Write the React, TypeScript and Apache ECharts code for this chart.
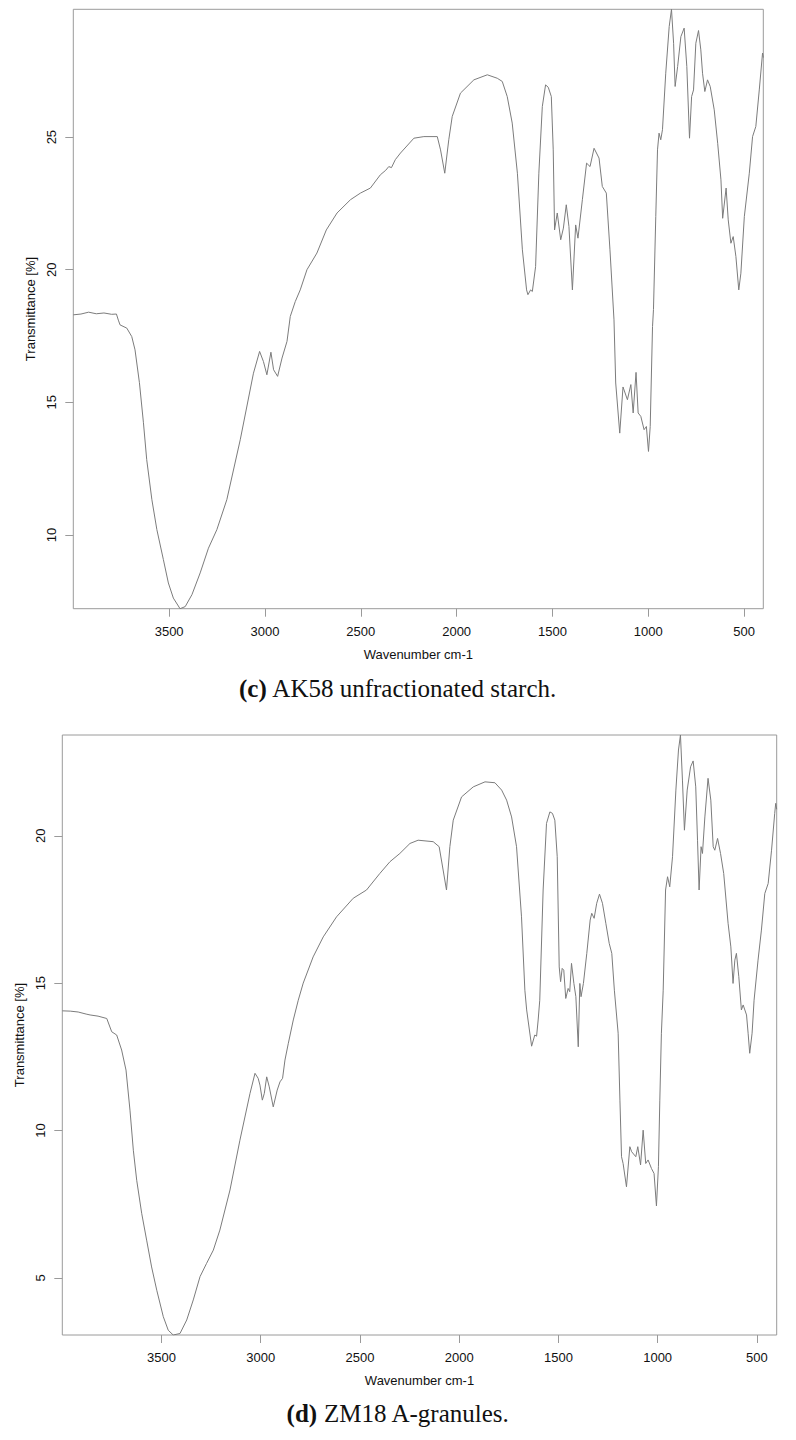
import React, { useEffect, useRef } from "react";
import * as echarts from "echarts";

// (c) AK58 unfractionated starch
const wnC = [
  4000, 3960, 3920, 3880, 3840, 3800, 3775, 3765, 3756, 3721, 3695, 3678, 3655, 3634, 3617, 3590, 3564, 3530, 3504, 3478,
  3443, 3416, 3381, 3338, 3295, 3251, 3199, 3129, 3060, 3028, 3008, 2990, 2969, 2955, 2934, 2911, 2885, 2868, 2842, 2816,
  2781, 2729, 2680, 2624, 2554, 2502, 2450, 2398, 2370, 2354, 2340, 2320, 2293, 2223, 2171, 2101, 2084, 2062, 2041, 2023,
  1980, 1910, 1840, 1788, 1762, 1736, 1710, 1683, 1657, 1635, 1628, 1614, 1605, 1588, 1571, 1553, 1536, 1522, 1506, 1496,
  1489, 1475, 1457, 1443, 1428, 1414, 1396, 1379, 1367, 1344, 1322, 1304, 1283, 1257, 1240, 1219, 1200, 1179, 1170, 1149,
  1132, 1109, 1091, 1079, 1064, 1053, 1039, 1022, 1010, 999, 990, 978, 973, 961, 952, 944, 935, 926, 909, 891,
  879, 868, 860, 847, 830, 813, 799, 785, 774, 764, 752, 738, 726, 717, 705, 691, 677, 656, 638, 621,
  612, 594, 583, 569, 557, 543, 528, 517, 499, 473, 456, 439, 421, 404, 400,
];
const tC = [
  18.3, 18.33, 18.4, 18.34, 18.37, 18.32, 18.33, 18.1, 17.92, 17.8, 17.48, 16.98, 15.74, 14.23, 12.84, 11.33, 10.2, 9.07, 8.19, 7.62,
  7.22, 7.3, 7.75, 8.57, 9.5, 10.2, 11.33, 13.59, 16.1, 16.92, 16.54, 16.04, 16.89, 16.23, 15.98, 16.67, 17.3, 18.24, 18.8, 19.24,
  20.0, 20.63, 21.5, 22.14, 22.64, 22.89, 23.08, 23.58, 23.75, 23.89, 23.85, 24.15, 24.4, 24.96, 25.02, 25.02, 24.52, 23.64, 24.9, 25.78,
  26.66, 27.16, 27.35, 27.22, 27.1, 26.53, 25.53, 23.64, 20.75, 19.24, 19.06, 19.24, 19.18, 20.12, 23.64, 26.15, 26.97, 26.88, 26.53, 24.52,
  21.5, 22.14, 21.13, 21.57, 22.45, 21.63, 19.24, 21.69, 21.19, 22.64, 24.02, 23.89, 24.58, 24.21, 23.14, 22.89, 20.75, 18.11, 15.73, 13.84,
  15.58, 15.1, 15.67, 14.6, 16.13, 14.6, 14.47, 13.97, 14.09, 13.15, 14.09, 17.86, 18.5, 22.0, 24.52, 25.15, 24.9, 25.28, 27.41, 29.17,
  29.82, 28.54, 26.91, 27.66, 28.79, 29.11, 27.66, 24.96, 26.53, 26.78, 28.54, 29.02, 28.29, 27.41, 26.72, 27.16, 26.91, 26.03, 24.77, 23.39,
  21.94, 23.08, 21.88, 21.0, 21.25, 20.5, 19.24, 19.87, 22.0, 23.64, 25.02, 25.4, 26.78, 28.17, 28.0,
];

// (d) ZM18 A-granules
const wnD = [
  4000, 3960, 3920, 3880, 3860, 3820, 3776, 3751, 3726, 3701, 3679, 3659, 3642, 3625, 3600, 3575, 3550, 3524, 3491, 3466,
  3441, 3407, 3373, 3340, 3306, 3273, 3239, 3206, 3155, 3105, 3054, 3029, 3013, 3004, 2992, 2982, 2970, 2957, 2937, 2917,
  2903, 2890, 2878, 2861, 2836, 2811, 2786, 2736, 2685, 2618, 2534, 2467, 2400, 2349, 2299, 2248, 2207, 2131, 2101, 2081,
  2064, 2047, 2030, 1988, 1929, 1870, 1820, 1786, 1761, 1736, 1711, 1686, 1669, 1660, 1635, 1619, 1610, 1602, 1594, 1577,
  1560, 1543, 1530, 1518, 1506, 1496, 1489, 1481, 1473, 1463, 1451, 1443, 1434, 1422, 1412, 1400, 1392, 1386, 1374, 1357,
  1340, 1332, 1320, 1307, 1293, 1278, 1261, 1244, 1231, 1218, 1199, 1190, 1182, 1174, 1157, 1140, 1131, 1110, 1100, 1086,
  1073, 1060, 1048, 1031, 1018, 1006, 996, 989, 981, 972, 960, 950, 939, 925, 908, 895, 885, 875, 865, 851,
  834, 821, 808, 799, 791, 781, 774, 762, 746, 732, 720, 712, 698, 683, 667, 645, 631, 620, 611, 603,
  591, 578, 569, 552, 544, 536, 524, 514, 494, 477, 460, 443, 426, 410, 405, 400,
];
const tD = [
  14.06, 14.05, 14.02, 13.95, 13.92, 13.88, 13.8, 13.35, 13.24, 12.73, 12.05, 10.69, 9.33, 8.31, 7.19, 6.28, 5.37, 4.58, 3.68, 3.22,
  3.06, 3.11, 3.57, 4.25, 5.04, 5.49, 5.94, 6.62, 7.98, 9.67, 11.26, 11.94, 11.77, 11.54, 11.03, 11.26, 11.82, 11.48, 10.8, 11.37,
  11.65, 11.77, 12.39, 12.96, 13.75, 14.42, 15.0, 15.89, 16.57, 17.25, 17.88, 18.16, 18.72, 19.12, 19.4, 19.74, 19.85, 19.8, 19.63, 18.84,
  18.16, 19.63, 20.53, 21.32, 21.66, 21.83, 21.8, 21.55, 21.21, 20.64, 19.63, 17.25, 14.76, 14.09, 12.86, 13.24, 13.2, 13.75, 14.42, 18.16,
  20.42, 20.81, 20.76, 20.53, 19.29, 15.55, 15.05, 15.5, 15.44, 14.48, 14.82, 14.71, 15.67, 14.99, 14.54, 12.84, 14.99, 14.54, 14.99, 16.01,
  17.14, 17.37, 17.2, 17.71, 18.02, 17.71, 17.03, 16.35, 16.01, 14.76, 13.3, 11.03, 9.11, 8.88, 8.09, 9.45, 9.28, 9.11, 9.45, 8.83,
  10.01, 8.88, 9.0, 8.71, 8.54, 7.44, 8.77, 11.03, 13.3, 14.76, 18.16, 18.61, 18.27, 19.29, 21.55, 22.91, 23.42, 21.89, 20.19, 21.55,
  22.34, 22.54, 21.66, 19.85, 18.16, 19.63, 19.4, 20.64, 21.95, 21.21, 19.63, 19.51, 19.91, 19.4, 18.72, 17.03, 16.23, 14.99, 15.78, 16.01,
  15.22, 14.09, 14.26, 13.92, 13.3, 12.62, 13.3, 14.42, 15.78, 16.8, 18.04, 18.38, 19.51, 20.76, 21.1, 20.9,
];

const xTicks = [500, 1000, 1500, 2000, 2500, 3000, 3500];
const yTicksC = [10, 15, 20, 25];
const yTicksD = [5, 10, 15, 20];
const yRangeC = [7.22, 29.82];
const yRangeD = [3.06, 23.42];
const xRange = [400, 4000];

const captionC = "AK58 unfractionated starch.";
const captionD = "ZM18 A-granules.";
const xTitle = "Wavenumber cm-1";
const yTitle = "Transmittance [%]";

const SANS = "'Liberation Sans', Arial, sans-serif";
const SERIF = "'Liberation Serif', 'Times New Roman', serif";
const BOX = "#9a9a9a";
const LINE = "#7c7c7c";
const TXT = "#111";

function pairs(xs: number[], ys: number[]) {
  return xs.map((x, i) => [x, ys[i]]);
}

function xAxisDef(gridIndex: number) {
  return {
    type: "value",
    gridIndex,
    min: xRange[0],
    max: xRange[1],
    inverse: true,
    axisLine: { show: false },
    splitLine: { show: false },
    axisTick: { show: true, length: 8, lineStyle: { color: BOX, width: 1 }, customValues: xTicks },
    axisLabel: {
      show: true,
      customValues: xTicks,
      margin: 16,
      color: TXT,
      fontSize: 13,
      fontFamily: SANS,
      formatter: (v: number) => String(v),
    },
    name: xTitle,
    nameLocation: "middle",
    nameGap: 39,
    nameTextStyle: { color: TXT, fontSize: 13, fontFamily: SANS },
  };
}

function yAxisDef(gridIndex: number, range: number[], ticks: number[], nameGap: number, labelMargin: number) {
  return {
    type: "value",
    gridIndex,
    min: range[0],
    max: range[1],
    axisLine: { show: false },
    splitLine: { show: false },
    axisTick: { show: true, length: 8, lineStyle: { color: BOX, width: 1 }, customValues: ticks },
    axisLabel: {
      show: true,
      customValues: ticks,
      rotate: 90,
      margin: labelMargin,
      color: TXT,
      fontSize: 13,
      fontFamily: SANS,
      formatter: (v: number) => String(v),
    },
    name: yTitle,
    nameLocation: "middle",
    nameRotate: 90,
    nameGap,
    nameTextStyle: { color: TXT, fontSize: 13, fontFamily: SANS },
  };
}

export default function App() {
  const ref = useRef<HTMLDivElement>(null);
  useEffect(() => {
    if (!ref.current) return;
    const chart = echarts.init(ref.current, undefined, { renderer: "svg" });
    chart.setOption({
      animation: false,
      backgroundColor: "#fff",
      grid: [
        { left: 73.3, top: 9.3, width: 690, height: 599.4, show: true, borderColor: BOX, borderWidth: 1, backgroundColor: "transparent", containLabel: false, outerBoundsMode: "none" },
        { left: 62.3, top: 735, width: 714.4, height: 600, show: true, borderColor: BOX, borderWidth: 1, backgroundColor: "transparent", containLabel: false, outerBoundsMode: "none" },
      ],
      xAxis: [xAxisDef(0), xAxisDef(1)],
      yAxis: [yAxisDef(0, yRangeC, yTicksC, 34, 15), yAxisDef(1, yRangeD, yTicksD, 36, 15.5)],
      series: [
        {
          type: "line",
          xAxisIndex: 0,
          yAxisIndex: 0,
          data: pairs(wnC, tC),
          showSymbol: false,
          symbol: "none",
          clip: true,
          lineStyle: { color: LINE, width: 1 },
        },
        {
          type: "line",
          xAxisIndex: 1,
          yAxisIndex: 1,
          data: pairs(wnD, tD),
          showSymbol: false,
          symbol: "none",
          clip: true,
          lineStyle: { color: LINE, width: 1 },
        },
      ],
      graphic: [
        {
          type: "text",
          x: 398,
          y: 688,
          style: {
            text: "{b|(c)} " + captionC,
            rich: { b: { fontWeight: "bold", fontFamily: SERIF, fontSize: 25, fill: TXT } },
            fontFamily: SERIF,
            fontSize: 25,
            fill: TXT,
            align: "center",
            verticalAlign: "middle",
          },
        },
        {
          type: "text",
          x: 398,
          y: 1413,
          style: {
            text: "{b|(d)} " + captionD,
            rich: { b: { fontWeight: "bold", fontFamily: SERIF, fontSize: 25, fill: TXT } },
            fontFamily: SERIF,
            fontSize: 25,
            fill: TXT,
            align: "center",
            verticalAlign: "middle",
          },
        },
      ],
    });
    return () => chart.dispose();
  }, []);
  return <div ref={ref} style={{ position: "absolute", left: 0, top: 0, width: 796, height: 1440 }} />;
}
